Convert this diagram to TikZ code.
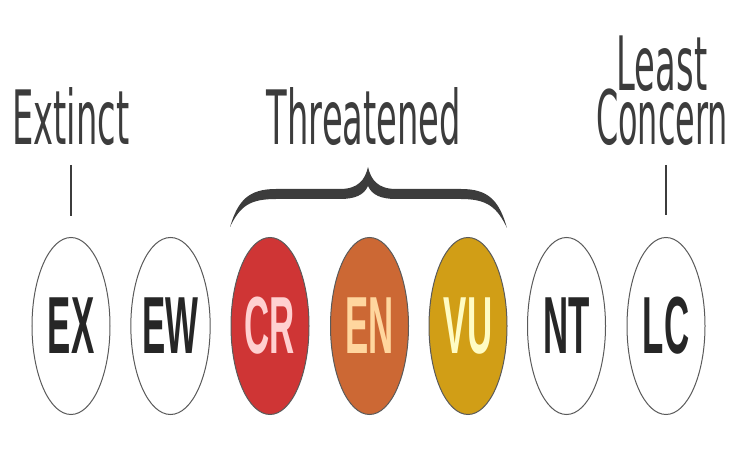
\documentclass[tikz,border=0pt]{standalone}
\usepackage{fontspec}
\usetikzlibrary{shapes.geometric}
\newfontfamily\labelfont{DejaVu Sans}
\newfontfamily\badgefont{Liberation Sans}
\definecolor{rim}{RGB}{90,90,90}
\definecolor{crfill}{RGB}{207,53,53}
\definecolor{crtext}{RGB}{255,208,208}
\definecolor{enfill}{RGB}{204,104,52}
\definecolor{entext}{RGB}{255,214,158}
\definecolor{vufill}{RGB}{209,158,22}
\definecolor{vutext}{RGB}{255,252,196}
\definecolor{darktext}{RGB}{38,38,38}
\definecolor{labeltext}{RGB}{60,60,60}
\newcommand{\badgetxt}[1]{\scalebox{0.43}[1]{#1}}
\newcommand{\labeltxt}[1]{\scalebox{0.45}[1]{#1}}
\newcommand{\concerntxt}[1]{\scalebox{0.425}[1]{#1}}
\tikzset{
  badge/.style={ellipse, draw=rim, line width=1bp, fill=white,
    minimum width=78bp, minimum height=177bp, inner sep=0pt,
    text=darktext, font=\badgefont\bfseries\fontsize{81bp}{81bp}\selectfont},
  catlabel/.style={anchor=base, inner sep=0pt, text=labeltext,
    text height=53bp, text depth=0bp,
    font=\labelfont\fontsize{75bp}{75bp}\selectfont},
  twolabel/.style={anchor=south, inner sep=0pt, text=labeltext,
    align=center, text depth=0bp,
    font=\labelfont\fontsize{75bp}{55bp}\selectfont},
  tick/.style={draw=labeltext, line width=2bp},
  bracefill/.style={fill=labeltext, draw=none}
}
\begin{document}
\begin{tikzpicture}[x=1bp,y=-1bp]
\useasboundingbox (0,0) rectangle (750,450);
% badges
\node[badge] (ex) at (71,326) {\badgetxt{EX}};
\node[badge] (ew) at (170.5,326) {\badgetxt{EW}};
\node[badge, fill=crfill, text=crtext] (cr) at (270,326) {\badgetxt{CR}};
\node[badge, fill=enfill, text=entext] (en) at (369.5,326) {\badgetxt{EN}};
\node[badge, fill=vufill, text=vutext] (vu) at (468,326) {\badgetxt{VU}};
\node[badge] (nt) at (566.5,326) {\badgetxt{NT}};
\node[badge] (lc) at (666,326) {\badgetxt{LC}};
% labels
\node[catlabel] (extinct) at (71,145) {\labeltxt{Extinct}};
\node[catlabel] (threat) at (364,145) {\labeltxt{Threatened}};
\node[twolabel] (leastconcern) at (662,145)
  {\labeltxt{Least}\\[-3bp]\concerntxt{Concern}};
% ticks
\coordinate (extop) at (71,165);
\coordinate (exbot) at (71,216);
\coordinate (lctop) at (666,165);
\coordinate (lcbot) at (666,215);
\draw[tick] (extop) -- (exbot);
\draw[tick] (lctop) -- (lcbot);
% brace
\path[bracefill] (230,227)
  .. controls (238,200) and (249,189) .. (276,189)
  -- (340,189)
  .. controls (358,189) and (365,180) .. (368,167)
  .. controls (371,180) and (378,189) .. (396,189)
  -- (461,189)
  .. controls (488,189) and (499,200) .. (507,228)
  .. controls (497,207) and (487,199) .. (461,199)
  -- (396,199)
  .. controls (381,199) and (372,195) .. (368,186)
  .. controls (364,195) and (355,199) .. (340,199)
  -- (276,199)
  .. controls (250,199) and (240,206) .. (230,227) -- cycle;
\end{tikzpicture}
\end{document}
